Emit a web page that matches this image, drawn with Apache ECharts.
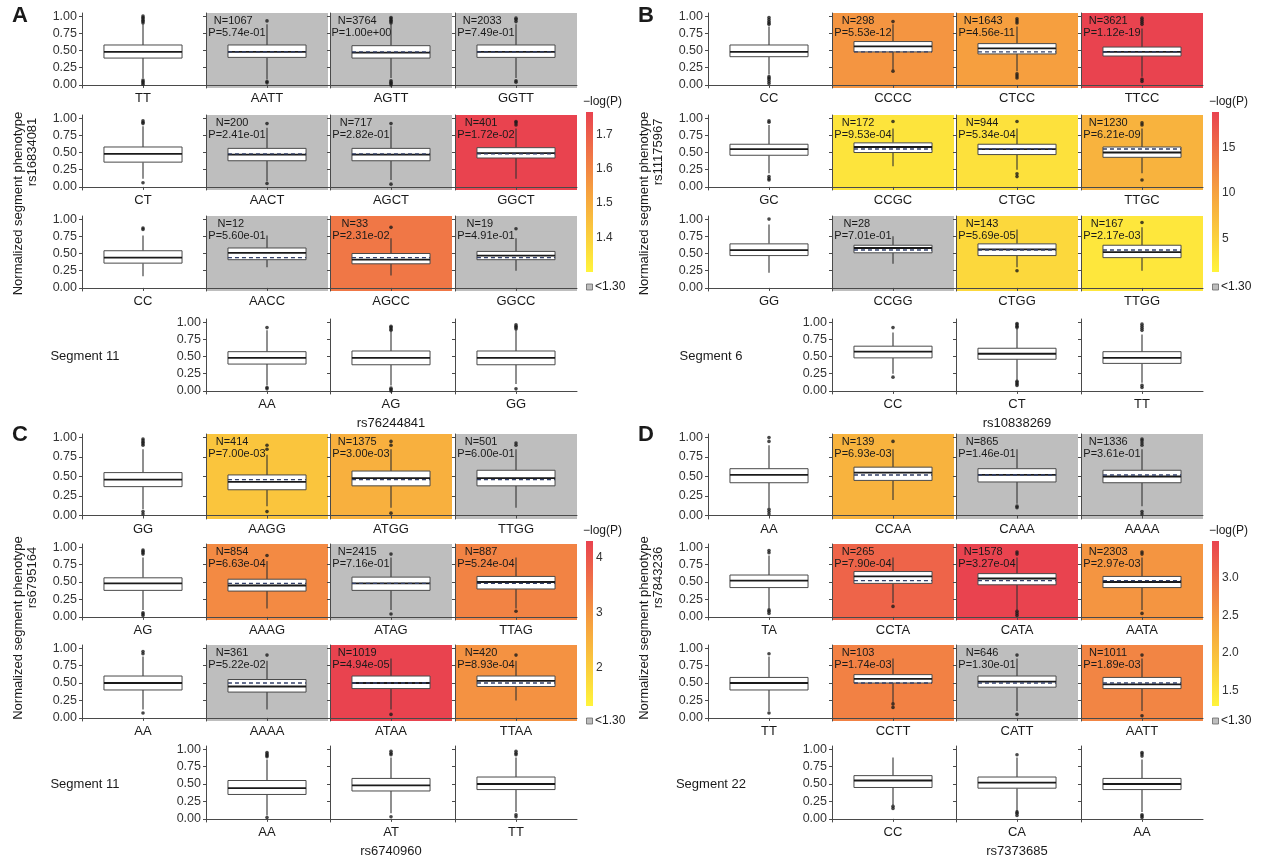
<!DOCTYPE html>
<html>
<head>
<meta charset="utf-8">
<title>Segment phenotype by haplotype</title>
<script src="https://cdn.jsdelivr.net/npm/echarts@6/dist/echarts.min.js"></script>
<style>
  html, body { margin: 0; padding: 0; background: #ffffff; }
  #chart { width: 1265px; height: 860px; }
</style>
</head>
<body>
<div id="chart"></div>
<script>
// ---------------- Panel A: rs16834081 x rs76244841, segment 11 ----------------
const aRowSnp = 'rs16834081';
const aColSnp = 'rs76244841';
const aSegment = 'Segment 11';
const aRowGenotypes = ['TT', 'CT', 'CC'];
// box stats: [lower whisker, Q1, median, Q3, upper whisker]
const aRowBoxes = [
  [0.10, 0.39, 0.48, 0.58, 0.88],
  [0.12, 0.36, 0.48, 0.58, 0.88],
  [0.17, 0.36, 0.44, 0.54, 0.76]
];
const aRowOutliers = [
  [0.90, 0.92, 0.94, 0.96, 0.98, 1.00, 0.01, 0.03, 0.05, 0.07],
  [0.92, 0.94, 0.96, 0.06],
  [0.85, 0.87]
];
const aCellGenotypes = [['AATT', 'AGTT', 'GGTT'], ['AACT', 'AGCT', 'GGCT'], ['AACC', 'AGCC', 'GGCC']];
const aCellN = [[1067, 3764, 2033], [200, 717, 401], [12, 33, 19]];
const aCellP = [['5.74e-01', '1.00e+00', '7.49e-01'], ['2.41e-01', '2.82e-01', '1.72e-02'], ['5.60e-01', '2.31e-02', '4.91e-01']];
const aCellBoxes = [
  [[0.08, 0.40, 0.48, 0.58, 0.88], [0.10, 0.39, 0.47, 0.57, 0.88], [0.10, 0.40, 0.48, 0.58, 0.88]],
  [[0.08, 0.38, 0.47, 0.56, 0.86], [0.10, 0.38, 0.47, 0.56, 0.88], [0.12, 0.42, 0.49, 0.57, 0.85]],
  [[0.30, 0.41, 0.51, 0.58, 0.76], [0.18, 0.35, 0.41, 0.50, 0.72], [0.25, 0.41, 0.47, 0.53, 0.72]]
];
const aCellOutliers = [
  [[0.93, 0.03, 0.05], [0.90, 0.92, 0.94, 0.96, 0.98, 0.00, 0.02, 0.04, 0.06], [0.92, 0.95, 0.97, 0.04, 0.06]],
  [[0.92, 0.05], [0.92, 0.04], [0.90, 0.93, 0.95]],
  [[], [0.88], [0.86]]
];
const aColGenotypes = ['AA', 'AG', 'GG'];
const aColBoxes = [[0.08, 0.39, 0.48, 0.57, 0.88], [0.08, 0.38, 0.48, 0.58, 0.86], [0.10, 0.38, 0.48, 0.58, 0.88]];
const aColOutliers = [[0.92, 0.03, 0.05], [0.88, 0.90, 0.92, 0.94, 0.00, 0.02, 0.04], [0.90, 0.92, 0.94, 0.96, 0.03]];
const aColorTicks = [1.4, 1.5, 1.6, 1.7];

// ---------------- Panel B: rs11175967 x rs10838269, segment 6 ----------------
const bRowSnp = 'rs11175967';
const bColSnp = 'rs10838269';
const bSegment = 'Segment 6';
const bRowGenotypes = ['CC', 'GC', 'GG'];
const bRowBoxes = [
  [0.15, 0.41, 0.48, 0.58, 0.85],
  [0.20, 0.46, 0.55, 0.62, 0.90],
  [0.22, 0.47, 0.55, 0.64, 0.92]
];
const bRowOutliers = [
  [0.88, 0.90, 0.92, 0.95, 0.98, 0.02, 0.05, 0.08, 0.10, 0.12],
  [0.94, 0.96, 0.10, 0.12, 0.15],
  [1.00]
];
const bCellGenotypes = [['CCCC', 'CTCC', 'TTCC'], ['CCGC', 'CTGC', 'TTGC'], ['CCGG', 'CTGG', 'TTGG']];
const bCellN = [[298, 1643, 3621], [172, 944, 1230], [28, 143, 167]];
const bCellP = [['5.53e-12', '4.56e-11', '1.12e-19'], ['9.53e-04', '5.34e-04', '6.21e-09'], ['7.01e-01', '5.69e-05', '2.17e-03']];
const bCellBoxes = [
  [[0.22, 0.48, 0.56, 0.63, 0.88], [0.20, 0.45, 0.53, 0.60, 0.85], [0.12, 0.42, 0.48, 0.55, 0.82]],
  [[0.30, 0.50, 0.58, 0.64, 0.85], [0.25, 0.47, 0.55, 0.62, 0.85], [0.20, 0.43, 0.50, 0.58, 0.85]],
  [[0.35, 0.51, 0.58, 0.62, 0.75], [0.30, 0.47, 0.56, 0.64, 0.85], [0.25, 0.44, 0.52, 0.62, 0.88]]
];
const bCellOutliers = [
  [[0.92, 0.20], [0.90, 0.93, 0.96, 0.10, 0.13, 0.16], [0.88, 0.91, 0.94, 0.97, 0.05, 0.08]],
  [[0.95], [0.95, 0.15, 0.19], [0.90, 0.93, 0.10]],
  [[], [0.25], [0.95]]
];
const bColGenotypes = ['CC', 'CT', 'TT'];
const bColBoxes = [[0.25, 0.48, 0.57, 0.65, 0.85], [0.15, 0.46, 0.54, 0.62, 0.90], [0.12, 0.40, 0.48, 0.57, 0.82]];
const bColOutliers = [[0.92, 0.20], [0.92, 0.94, 0.96, 0.98, 0.08, 0.10, 0.12, 0.14], [0.88, 0.91, 0.94, 0.97, 0.05, 0.08]];
const bColorTicks = [5, 10, 15];

// ---------------- Panel C: rs6795164 x rs6740960, segment 11 ----------------
const cRowSnp = 'rs6795164';
const cColSnp = 'rs6740960';
const cSegment = 'Segment 11';
const cRowGenotypes = ['GG', 'AG', 'AA'];
const cRowBoxes = [
  [0.08, 0.37, 0.46, 0.55, 0.85],
  [0.10, 0.38, 0.48, 0.56, 0.85],
  [0.12, 0.40, 0.50, 0.60, 0.88]
];
const cRowOutliers = [
  [0.90, 0.92, 0.94, 0.96, 0.98, 0.02, 0.05],
  [0.90, 0.92, 0.94, 0.96, 0.02, 0.04, 0.06],
  [0.92, 0.95, 0.07]
];
const cCellGenotypes = [['AAGG', 'ATGG', 'TTGG'], ['AAAG', 'ATAG', 'TTAG'], ['AAAA', 'ATAA', 'TTAA']];
const cCellN = [[414, 1375, 501], [854, 2415, 887], [361, 1019, 420]];
const cCellP = [['7.00e-03', '3.00e-03', '6.00e-01'], ['6.63e-04', '7.16e-01', '5.24e-04'], ['5.22e-02', '4.94e-05', '8.93e-04']];
const cCellBoxes = [
  [[0.12, 0.33, 0.43, 0.52, 0.78], [0.10, 0.38, 0.48, 0.57, 0.85], [0.10, 0.38, 0.48, 0.58, 0.85]],
  [[0.12, 0.37, 0.45, 0.54, 0.80], [0.10, 0.38, 0.48, 0.57, 0.85], [0.12, 0.40, 0.50, 0.58, 0.85]],
  [[0.12, 0.37, 0.45, 0.55, 0.82], [0.12, 0.42, 0.50, 0.60, 0.85], [0.25, 0.45, 0.53, 0.60, 0.82]]
];
const cCellOutliers = [
  [[0.85, 0.90, 0.05], [0.90, 0.95, 0.03], [0.90, 0.93]],
  [[0.88], [0.90, 0.04], [0.08]],
  [[0.90], [0.05], [0.90]]
];
const cColGenotypes = ['AA', 'AT', 'TT'];
const cColBoxes = [[0.05, 0.35, 0.44, 0.55, 0.85], [0.08, 0.40, 0.48, 0.58, 0.88], [0.10, 0.42, 0.50, 0.60, 0.88]];
const cColOutliers = [[0.89, 0.91, 0.93, 0.95, 0.02], [0.92, 0.94, 0.97, 0.03], [0.92, 0.94, 0.97, 0.03, 0.06]];
const cColorTicks = [2, 3, 4];

// ---------------- Panel D: rs7843236 x rs7373685, segment 22 ----------------
const dRowSnp = 'rs7843236';
const dColSnp = 'rs7373685';
const dSegment = 'Segment 22';
const dRowGenotypes = ['AA', 'TA', 'TT'];
const dRowBoxes = [
  [0.10, 0.42, 0.52, 0.60, 0.90],
  [0.12, 0.42, 0.52, 0.60, 0.88],
  [0.10, 0.40, 0.50, 0.58, 0.88]
];
const dRowOutliers = [
  [0.95, 1.00, 0.02, 0.05, 0.08],
  [0.92, 0.95, 0.05, 0.08, 0.10],
  [0.92, 0.07]
];
const dCellGenotypes = [['CCAA', 'CAAA', 'AAAA'], ['CCTA', 'CATA', 'AATA'], ['CCTT', 'CATT', 'AATT']];
const dCellN = [[139, 865, 1336], [265, 1578, 2303], [103, 646, 1011]];
const dCellP = [['6.93e-03', '1.46e-01', '3.61e-01'], ['7.90e-04', '3.27e-04', '2.97e-03'], ['1.74e-03', '1.30e-01', '1.89e-03']];
const dCellBoxes = [
  [[0.20, 0.45, 0.55, 0.62, 0.85], [0.15, 0.43, 0.52, 0.60, 0.85], [0.12, 0.42, 0.50, 0.58, 0.85]],
  [[0.20, 0.48, 0.58, 0.65, 0.85], [0.10, 0.46, 0.55, 0.62, 0.85], [0.10, 0.42, 0.50, 0.58, 0.85]],
  [[0.22, 0.50, 0.56, 0.62, 0.85], [0.10, 0.44, 0.52, 0.60, 0.85], [0.10, 0.42, 0.48, 0.58, 0.85]]
];
const dCellOutliers = [
  [[0.95], [0.10, 0.12], [0.90, 0.93, 0.96, 0.98, 0.02, 0.05]],
  [[0.15], [0.90, 0.93, 0.02, 0.05, 0.08], [0.90, 0.93, 0.05]],
  [[0.15, 0.20], [0.90, 0.05], [0.90, 0.03]]
];
const dColGenotypes = ['CC', 'CA', 'AA'];
const dColBoxes = [[0.20, 0.45, 0.55, 0.62, 0.88], [0.10, 0.44, 0.52, 0.60, 0.88], [0.10, 0.42, 0.50, 0.58, 0.85]];
const dColOutliers = [[0.15, 0.18], [0.92, 0.05, 0.08, 0.10], [0.90, 0.93, 0.95, 0.02, 0.04, 0.06]];
const dColorTicks = [1.5, 2.0, 2.5, 3.0];

// ---------------- shared scale settings ----------------
const yTickValues = [0, 0.25, 0.5, 0.75, 1];
const significanceCut = 1.30;   // -log10(0.05)

// ---------------- layout ----------------
const FONT = '"Liberation Sans", Arial, Helvetica, sans-serif';
const AXIS_COLOR = '#4a4a4a';
const GREY_CELL = '#bebebe';
const Y_MIN = -0.045, Y_MAX = 1.045;
const COL_LEFT = [82, 206, 330, 455];
const COL_W = 122;
const HALVES = {
  top:    { letterY: 4,   rowTop: [13, 115, 216], rowH: [75, 75, 75], segTop: 319, segH: 75, cbTop: 112, cbH: 160 },
  bottom: { letterY: 423, rowTop: [434, 544, 645], rowH: [85, 76, 76], segTop: 746, segH: 76, cbTop: 541, cbH: 165 }
};

const panels = [
  { letter: 'A', dx: 0,   half: HALVES.top,    rowSnp: aRowSnp, colSnp: aColSnp, segment: aSegment,
    rowGenotypes: aRowGenotypes, rowBoxes: aRowBoxes, rowOutliers: aRowOutliers,
    cellGenotypes: aCellGenotypes, cellN: aCellN, cellP: aCellP, cellBoxes: aCellBoxes, cellOutliers: aCellOutliers,
    colGenotypes: aColGenotypes, colBoxes: aColBoxes, colOutliers: aColOutliers, colorTicks: aColorTicks, digits: 1 },
  { letter: 'B', dx: 626, half: HALVES.top,    rowSnp: bRowSnp, colSnp: bColSnp, segment: bSegment,
    rowGenotypes: bRowGenotypes, rowBoxes: bRowBoxes, rowOutliers: bRowOutliers,
    cellGenotypes: bCellGenotypes, cellN: bCellN, cellP: bCellP, cellBoxes: bCellBoxes, cellOutliers: bCellOutliers,
    colGenotypes: bColGenotypes, colBoxes: bColBoxes, colOutliers: bColOutliers, colorTicks: bColorTicks, digits: 0 },
  { letter: 'C', dx: 0,   half: HALVES.bottom, rowSnp: cRowSnp, colSnp: cColSnp, segment: cSegment,
    rowGenotypes: cRowGenotypes, rowBoxes: cRowBoxes, rowOutliers: cRowOutliers,
    cellGenotypes: cCellGenotypes, cellN: cCellN, cellP: cCellP, cellBoxes: cCellBoxes, cellOutliers: cCellOutliers,
    colGenotypes: cColGenotypes, colBoxes: cColBoxes, colOutliers: cColOutliers, colorTicks: cColorTicks, digits: 0 },
  { letter: 'D', dx: 626, half: HALVES.bottom, rowSnp: dRowSnp, colSnp: dColSnp, segment: dSegment,
    rowGenotypes: dRowGenotypes, rowBoxes: dRowBoxes, rowOutliers: dRowOutliers,
    cellGenotypes: dCellGenotypes, cellN: dCellN, cellP: dCellP, cellBoxes: dCellBoxes, cellOutliers: dCellOutliers,
    colGenotypes: dColGenotypes, colBoxes: dColBoxes, colOutliers: dColOutliers, colorTicks: dColorTicks, digits: 1 }
];

// ---------------- colour ramp for -log10(P) ----------------
const rampStops = [
  [0.0, [255, 244, 59]],
  [0.5, [246, 161, 63]],
  [1.0, [233, 67, 79]]
];
function rampColor(t) {
  t = Math.max(0, Math.min(1, t));
  for (let i = 1; i < rampStops.length; i++) {
    const [t1, c1] = rampStops[i];
    const [t0, c0] = rampStops[i - 1];
    if (t <= t1) {
      const f = (t - t0) / (t1 - t0);
      const c = c0.map((v, k) => Math.round(v + (c1[k] - v) * f));
      return `rgb(${c[0]},${c[1]},${c[2]})`;
    }
  }
  const c = rampStops[rampStops.length - 1][1];
  return `rgb(${c[0]},${c[1]},${c[2]})`;
}
const score = p => -Math.log10(parseFloat(p));

// ---------------- text measuring for the N / P labels ----------------
const measureCtx = document.createElement('canvas').getContext('2d');
function textWidth(str, size) {
  measureCtx.font = `${size}px ${FONT}`;
  return measureCtx.measureText(str).width;
}

// ---------------- option assembly ----------------
const grids = [], xAxes = [], yAxes = [], series = [], graphics = [];

function renderBox(params, api) {
  const y = v => api.coord([0, v])[1];
  const x = api.coord([0, api.value(3)])[0];
  const half = api.size([1, 0])[0] * 0.32;
  const lo = y(api.value(1)), q1 = y(api.value(2)), med = y(api.value(3)), q3 = y(api.value(4)), hi = y(api.value(5));
  const ref = api.value(6);
  const children = [
    { type: 'line', shape: { x1: x, y1: hi, x2: x, y2: q3 }, style: { stroke: '#333', lineWidth: 1.1 } },
    { type: 'line', shape: { x1: x, y1: q1, x2: x, y2: lo }, style: { stroke: '#333', lineWidth: 1.1 } },
    { type: 'rect', shape: { x: x - half, y: q3, width: half * 2, height: q1 - q3 }, style: { fill: '#ffffff', stroke: '#4a4a4a', lineWidth: 1 } },
    { type: 'line', shape: { x1: x - half, y1: med, x2: x + half, y2: med }, style: { stroke: '#1a1a1a', lineWidth: 1.8 } }
  ];
  if (isFinite(ref)) {
    const ry = y(ref);
    children.push({ type: 'line', shape: { x1: x - half, y1: ry, x2: x + half, y2: ry },
      style: { stroke: '#33406a', lineWidth: 1.4, lineDash: [4, 3] } });
  }
  return { type: 'group', children };
}

function addPlot(left, top, w, h, genotype, box, outliers, opts) {
  const gi = grids.length;
  grids.push({
    left, top, width: w, height: h, containLabel: false,
    show: !!opts.bg, backgroundColor: opts.bg || 'transparent', borderWidth: 0
  });
  xAxes.push({
    gridIndex: gi, type: 'category', data: [genotype],
    axisLine: { show: true, lineStyle: { color: AXIS_COLOR, width: 1 } },
    axisTick: { show: true, alignWithLabel: true, length: 3, lineStyle: { color: AXIS_COLOR } },
    axisLabel: { interval: 0, fontSize: 13, color: '#1a1a1a', margin: 4, fontFamily: FONT },
    splitLine: { show: false }
  });
  yAxes.push({
    gridIndex: gi, type: 'value', min: Y_MIN, max: Y_MAX,
    axisLine: { show: true, lineStyle: { color: AXIS_COLOR, width: 1 } },
    axisTick: { show: true, customValues: yTickValues, length: 3, lineStyle: { color: AXIS_COLOR } },
    axisLabel: { show: !!opts.labels, customValues: yTickValues, formatter: v => v.toFixed(2),
      fontSize: 12.5, color: '#333', margin: 5, fontFamily: FONT },
    splitLine: { show: false }
  });
  const row = [0].concat(box);
  if (opts.ref != null) row.push(opts.ref);
  series.push({
    type: 'custom', xAxisIndex: gi, yAxisIndex: gi, renderItem: renderBox,
    data: [row], clip: false, silent: true, z: 3
  });
  series.push({
    type: 'scatter', xAxisIndex: gi, yAxisIndex: gi, silent: true, z: 4,
    symbolSize: 3.6, itemStyle: { color: '#1a1a1a' },
    data: outliers.map(v => [0, v])
  });
}

function txt(x, y, text, size, extra) {
  graphics.push(Object.assign({
    type: 'text', x, y, silent: true,
    style: Object.assign({ text, fill: '#1a1a1a', font: `${size}px ${FONT}`, textAlign: 'left', textVerticalAlign: 'middle' }, extra || {})
  }));
}

panels.forEach(p => {
  const H = p.half, dx = p.dx;
  const scores = p.cellP.flat().map(score);
  const maxScore = Math.max(...scores);

  // upper 3 x 4 grid: reference genotype + combined genotypes
  for (let r = 0; r < 3; r++) {
    const top = H.rowTop[r], h = H.rowH[r];
    addPlot(COL_LEFT[0] + dx, top, COL_W, h, p.rowGenotypes[r], p.rowBoxes[r], p.rowOutliers[r], { labels: true });
    for (let c = 0; c < 3; c++) {
      const s = score(p.cellP[r][c]);
      const bg = s < significanceCut ? GREY_CELL : rampColor((s - significanceCut) / (maxScore - significanceCut));
      const left = COL_LEFT[c + 1] + dx;
      addPlot(left, top, COL_W, h, p.cellGenotypes[r][c], p.cellBoxes[r][c], p.cellOutliers[r][c],
        { bg, ref: p.rowBoxes[r][2] });
      const anchor = left + 19.5;
      const nStr = 'N=' + p.cellN[r][c];
      const pStr = 'P=' + p.cellP[r][c];
      txt(anchor - 0.3 * textWidth(nStr, 11), top + 8, nStr, 11);
      txt(anchor - 0.3 * textWidth(pStr, 11), top + 20, pStr, 11);
    }
  }

  // bottom row: second SNP alone
  for (let c = 0; c < 3; c++) {
    addPlot(COL_LEFT[c + 1] + dx, H.segTop, COL_W, H.segH, p.colGenotypes[c], p.colBoxes[c], p.colOutliers[c], { labels: c === 0 });
  }

  // colour bar
  const gi = grids.length;
  const cbLeft = 586 + dx;
  grids.push({ left: cbLeft, top: H.cbTop, width: 7, height: H.cbH, show: false });
  xAxes.push({ gridIndex: gi, type: 'value', min: 0, max: 1, show: false });
  yAxes.push({
    gridIndex: gi, type: 'value', min: significanceCut, max: maxScore, position: 'right',
    axisLine: { show: false }, axisTick: { show: false }, splitLine: { show: false },
    axisLabel: { show: true, customValues: p.colorTicks, formatter: v => v.toFixed(p.digits),
      fontSize: 12, color: '#333', margin: 3, fontFamily: FONT }
  });
  series.push({
    type: 'custom', xAxisIndex: gi, yAxisIndex: gi, silent: true, clip: false,
    data: [[0, significanceCut, maxScore]],
    renderItem: (params, api) => {
      const a = api.coord([0, api.value(2)]);
      const b = api.coord([1, api.value(1)]);
      return {
        type: 'rect', shape: { x: a[0], y: a[1], width: b[0] - a[0], height: b[1] - a[1] },
        style: { fill: new echarts.graphic.LinearGradient(0, 1, 0, 0,
          rampStops.map(([t, c]) => ({ offset: t, color: `rgb(${c[0]},${c[1]},${c[2]})` }))) }
      };
    }
  });
  txt(cbLeft - 3, H.cbTop - 10, '\u2212log(P)', 12);
  const legY = H.cbTop + H.cbH + 15;
  graphics.push({ type: 'rect', silent: true, shape: { x: cbLeft + 0.5, y: legY - 3, width: 6, height: 6 },
    style: { fill: GREY_CELL, stroke: '#666', lineWidth: 0.8 } });
  txt(cbLeft + 9, legY, '<1.30', 12);

  // panel letter and titles
  txt(12 + dx, H.letterY + 12, p.letter, 22, { font: `bold 22px ${FONT}` });
  const upperMid = (H.rowTop[0] + H.rowTop[2] + H.rowH[2]) / 2;
  const allMid = (H.rowTop[0] + H.segTop + H.segH) / 2;
  graphics.push({ type: 'text', x: 18 + dx, y: allMid, rotation: Math.PI / 2, silent: true,
    style: { text: 'Normalized segment phenotype', fill: '#1a1a1a', font: `13px ${FONT}`, textAlign: 'center', textVerticalAlign: 'middle' } });
  graphics.push({ type: 'text', x: 32 + dx, y: upperMid, rotation: Math.PI / 2, silent: true,
    style: { text: p.rowSnp, fill: '#1a1a1a', font: `13px ${FONT}`, textAlign: 'center', textVerticalAlign: 'middle' } });
  txt(85 + dx, H.segTop + H.segH / 2, p.segment, 13, { textAlign: 'center' });
  txt(COL_LEFT[2] + COL_W / 2 + dx, H.segTop + H.segH + 29, p.colSnp, 13, { textAlign: 'center' });
});

const chart = echarts.init(document.getElementById('chart'), null, { renderer: 'canvas' });
chart.setOption({
  animation: false,
  backgroundColor: '#ffffff',
  textStyle: { fontFamily: FONT },
  grid: grids,
  xAxis: xAxes,
  yAxis: yAxes,
  series,
  graphic: { elements: graphics }
});
</script>
</body>
</html>
